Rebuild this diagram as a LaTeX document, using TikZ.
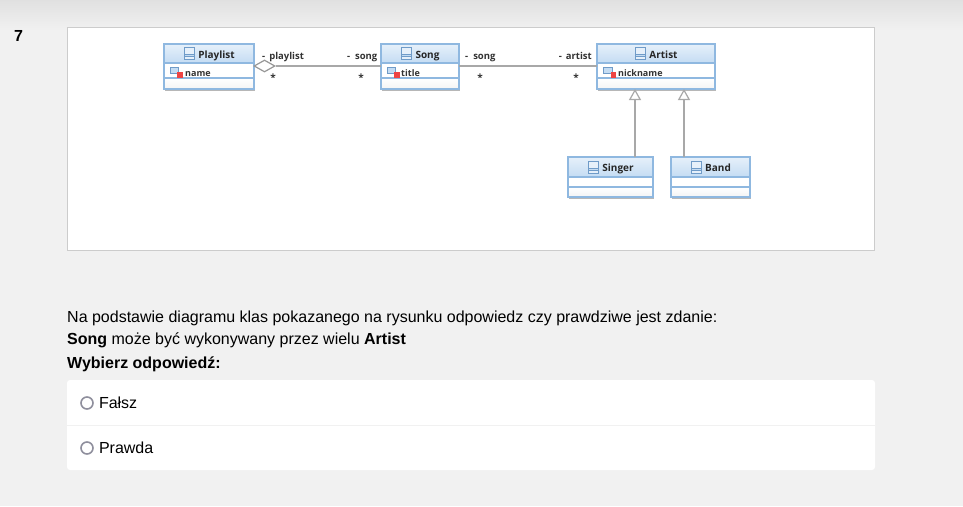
\documentclass[tikz,border=0pt]{standalone}
\usepackage{xcolor}
\usepackage{fontspec}
\setmainfont{Liberation Sans}
\newfontfamily\umlfont{Open Sans}
\usetikzlibrary{positioning,arrows.meta,shapes.geometric,shadows}
\definecolor{pageBg}{HTML}{F1F1F1}
\definecolor{panelLine}{HTML}{CCCCCC}
\definecolor{umlLine}{HTML}{8FB8E0}
\definecolor{umlTop}{HTML}{E6F0FA}
\definecolor{umlBot}{HTML}{C4DCF3}
\definecolor{umlFoot}{HTML}{F4F4F4}
\definecolor{umlIcon}{HTML}{6F9BC8}
\definecolor{umlRed}{HTML}{EE4444}
\definecolor{linkLine}{HTML}{A8A8A8}
\definecolor{radioLine}{HTML}{8F8F9D}
\tikzset{
  umlshadow/.style={drop shadow={shadow xshift=1.2pt, shadow yshift=-1.5pt, opacity=.4, fill=black!70}},
  umlhead/.style={umlshadow, draw=umlLine, line width=1.2pt, minimum height=19pt, inner sep=0pt, outer sep=0pt,
    top color=umlTop, bottom color=umlBot, font=\umlfont\fontsize{10}{12}\selectfont\bfseries, text=black!85,
    text height=10pt, text depth=1pt},
  umlattr/.style={umlshadow, draw=umlLine, line width=1.2pt, fill=white, inner sep=0pt, outer sep=0pt},
  umlfoot/.style={umlshadow, draw=umlLine, line width=1.2pt, inner sep=0pt, outer sep=0pt, top color=white, bottom color=umlFoot},
  umltxt/.style={font=\umlfont\fontsize{9}{11}\selectfont\bfseries, text=black!80, inner sep=0pt, text height=8pt, text depth=0pt},
  role/.style={font=\umlfont\fontsize{9.5}{12}\selectfont\bfseries, text=black!80, inner sep=0pt, text height=8pt, text depth=0pt},
  mult/.style={font=\umlfont\fontsize{10}{12}\selectfont\bfseries, text=black!80, inner sep=0pt},
  bodytxt/.style={font=\fontsize{16}{18}\selectfont, text=black, anchor=base west, inner sep=0pt},
  radio/.style={circle, draw=radioLine, line width=1.6pt, fill=white, minimum size=12pt, inner sep=0pt},
  classicon/.pic={
    \draw[umlIcon, line width=0.9pt, fill=umlTop] (-5,-6) rectangle (5,6.5);
    \draw[umlIcon, line width=0.9pt, fill=umlBot] (-5,1) rectangle (5,3.5);
  },
  attricon/.pic={
    \draw[umlIcon, line width=1pt, fill=umlBot] (-5,-4.5) rectangle (3.5,2);
    \fill[umlRed] (2,0.5) rectangle (7.5,6);
  },
}
\begin{document}
\begin{tikzpicture}[x=1pt,y=-1pt]
  \useasboundingbox (0,0) rectangle (963,506);
  \fill[pageBg] (0,0) rectangle (963,506);
  \shade[top color=black!12, bottom color=pageBg] (0,0) rectangle (963,30);
  \node[bodytxt, font=\fontsize{16}{18}\selectfont\bfseries] (number) at (14,41.5) {7};
  \node[draw=panelLine, fill=white, line width=0.8pt, minimum width=807pt, minimum height=223pt, inner sep=0pt, outer sep=0pt] (panel) at (471,139) {};

  % classes
  \node[umlhead, minimum width=90pt] (playlist) at (209,53.5) {\hspace{15pt}Playlist};
  \node[umlattr, minimum width=90pt, minimum height=15pt, below=0pt of playlist] (playlistA) {};
  \node[umlfoot, minimum width=90pt, minimum height=11pt, below=0pt of playlistA] (playlistF) {};
  \node[umlhead, minimum width=78pt] (song) at (420,53.5) {\hspace{15pt}Song};
  \node[umlattr, minimum width=78pt, minimum height=15pt, below=0pt of song] (songA) {};
  \node[umlfoot, minimum width=78pt, minimum height=11pt, below=0pt of songA] (songF) {};
  \node[umlhead, minimum width=118pt] (artist) at (656,53.5) {\hspace{15pt}Artist};
  \node[umlattr, minimum width=118pt, minimum height=15pt, below=0pt of artist] (artistA) {};
  \node[umlfoot, minimum width=118pt, minimum height=11pt, below=0pt of artistA] (artistF) {};
  \node[umlhead, minimum width=85pt, minimum height=20pt] (singer) at (610.5,167) {\hspace{15pt}Singer};
  \node[umlattr, minimum width=85pt, minimum height=10pt, below=0pt of singer] (singerA) {};
  \node[umlfoot, minimum width=85pt, minimum height=10pt, below=0pt of singerA] (singerF) {};
  \node[umlhead, minimum width=79pt, minimum height=20pt] (band) at (710.5,167) {\hspace{15pt}Band};
  \node[umlattr, minimum width=79pt, minimum height=10pt, below=0pt of band] (bandA) {};
  \node[umlfoot, minimum width=79pt, minimum height=10pt, below=0pt of bandA] (bandF) {};

  % icons and attributes
  \pic at (189,53) {classicon};
  \pic at (406,53) {classicon};
  \pic at (640,53) {classicon};
  \pic at (593,167) {classicon};
  \pic at (696,167) {classicon};
  \pic at (175,71.5) {attricon};
  \pic at (392,71.5) {attricon};
  \pic at (608.5,71.5) {attricon};
  \node[umltxt, anchor=west] (playlistN) at (185,72) {name};
  \node[umltxt, anchor=west] (songN) at (401,72) {title};
  \node[umltxt, anchor=west] (artistN) at (618,72) {nickname};

  % links
  \node[diamond, draw=linkLine!90!black, fill=white, line width=1.2pt, minimum width=21pt, minimum height=12pt, inner sep=0pt] (aggr) at (264.5,66) {};
  \coordinate (songIn) at (song.west |- aggr.east);
  \coordinate (songOut) at (song.east |- aggr.east);
  \coordinate (artistIn) at (artist.west |- aggr.east);
  \draw[linkLine, line width=1.2pt] (aggr.east) -- (songIn);
  \draw[linkLine, line width=1.2pt] (songOut) -- (artistIn);
  \coordinate (singerUp) at ([xshift=24.5pt]singer.north);
  \coordinate (bandUp) at ([xshift=-26.5pt]band.north);
  \draw[linkLine, line width=1.2pt, -{Triangle[open, fill=white, length=11pt, width=12pt]}] (singerUp) -- (singerUp |- artistF.south);
  \draw[linkLine, line width=1.2pt, -{Triangle[open, fill=white, length=11pt, width=12pt]}] (bandUp) -- (bandUp |- artistF.south);

  % roles
  \node[role, anchor=west] (r1) at (262,55) {-\hspace{4pt}playlist};
  \node[role, anchor=east] (r2) at (377.5,55) {-\hspace{5pt}song};
  \node[role, anchor=west] (r3) at (465,55) {-\hspace{5pt}song};
  \node[role, anchor=east] (r4) at (592,55) {-\hspace{4pt}artist};
  \node[mult] (m1) at (273,78) {*};
  \node[mult] (m2) at (361,78) {*};
  \node[mult] (m3) at (480,78) {*};
  \node[mult] (m4) at (576,78) {*};

  % question
  \node[bodytxt] (q1) at (67,322) {Na podstawie diagramu klas pokazanego na rysunku odpowiedz czy prawdziwe jest zdanie:};
  \node[bodytxt] (q2) at (67,344.5) {\textbf{Song} może być wykonywany przez wielu \textbf{Artist}};
  \node[bodytxt] (q3) at (67,368) {\textbf{Wybierz odpowiedź:}};
  \node[fill=white, rounded corners=3pt, minimum width=808pt, minimum height=90pt, inner sep=0pt] (card) at (471,425) {};
  \draw[pageBg, line width=0.8pt] (card.west) -- (card.east);
  \node[radio] (r5) at (87,403) {};
  \node[radio] (r6) at (87,448) {};
  \node[bodytxt, right=5pt of r5.east, anchor=west] (a1) {Fałsz};
  \node[bodytxt, right=5pt of r6.east, anchor=west] (a2) {Prawda};
\end{tikzpicture}
\end{document}
